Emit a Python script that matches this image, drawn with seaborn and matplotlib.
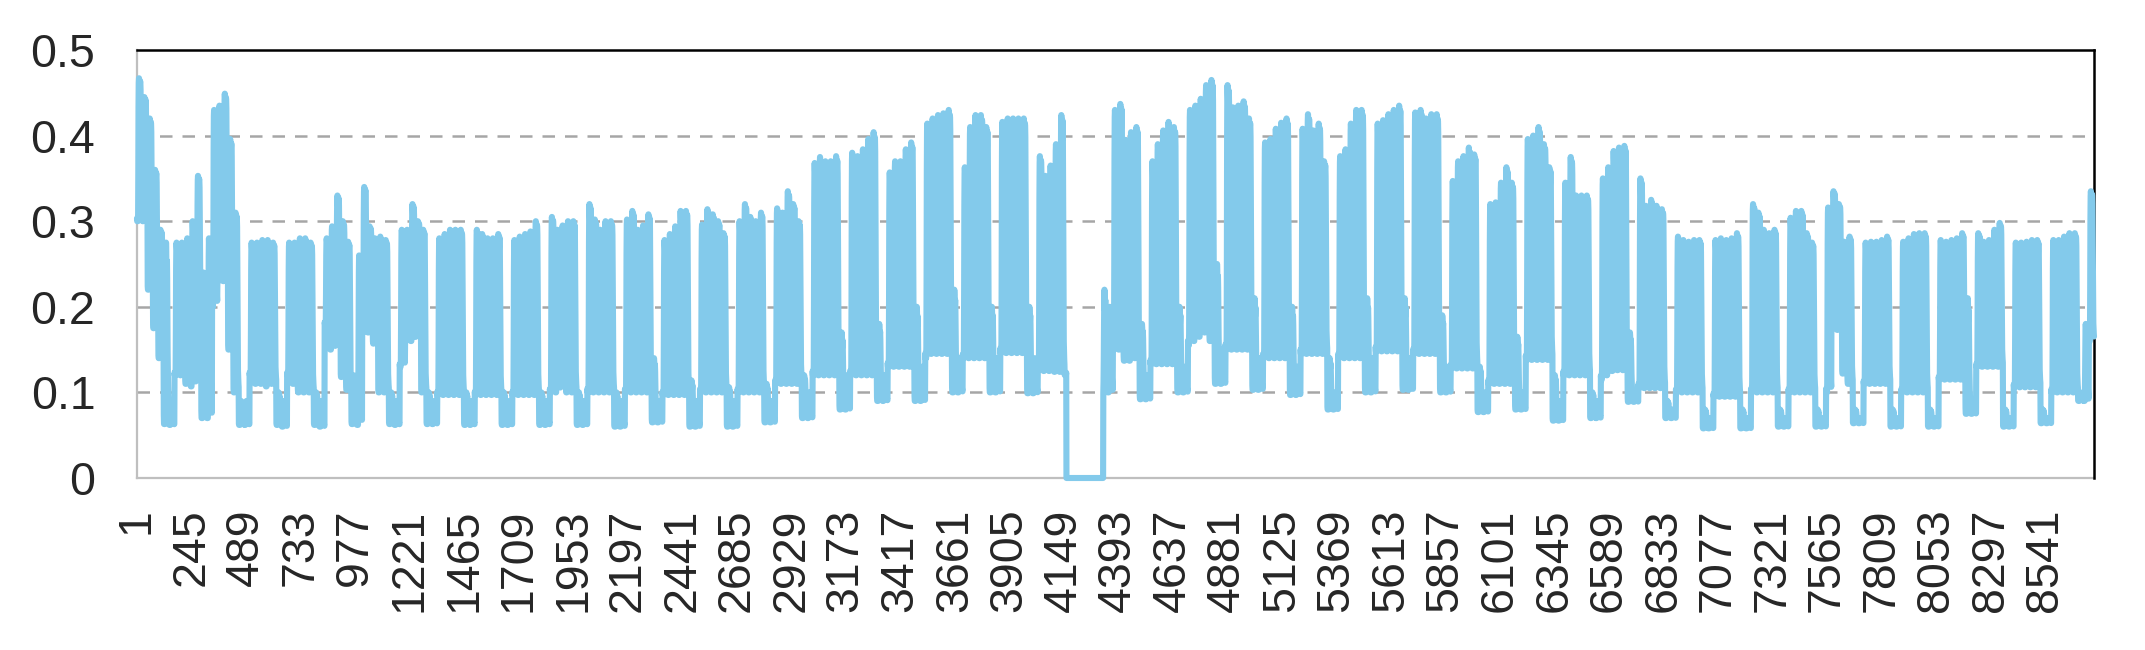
import numpy as np
import pandas as pd
import matplotlib
matplotlib.use("Agg")
import matplotlib.pyplot as plt
import seaborn as sns

# ---- data ---------------------------------------------------------------
# daily maximum per day, one row per week (Mon, Tue, Wed, Thu, Fri, Sat, Sun)
day_peak = [
    [0.467, 0.445, 0.420, 0.360, 0.290, 0.275, 0.090],
    [0.275, 0.275, 0.280, 0.300, 0.353, 0.240, 0.280],
    [0.430, 0.435, 0.449, 0.396, 0.310, 0.090, 0.090],
    [0.275, 0.275, 0.278, 0.278, 0.275, 0.100, 0.090],
    [0.275, 0.275, 0.280, 0.280, 0.275, 0.100, 0.090],
    [0.280, 0.294, 0.330, 0.300, 0.276, 0.120, 0.260],
    [0.340, 0.294, 0.280, 0.282, 0.278, 0.100, 0.090],
    [0.290, 0.290, 0.320, 0.300, 0.290, 0.100, 0.090],
    [0.280, 0.285, 0.290, 0.290, 0.290, 0.100, 0.090],
    [0.290, 0.285, 0.280, 0.280, 0.285, 0.100, 0.090],
    [0.278, 0.282, 0.285, 0.288, 0.300, 0.100, 0.090],
    [0.305, 0.290, 0.295, 0.300, 0.300, 0.100, 0.090],
    [0.320, 0.302, 0.290, 0.300, 0.300, 0.100, 0.090],
    [0.302, 0.312, 0.290, 0.295, 0.308, 0.140, 0.090],
    [0.278, 0.285, 0.294, 0.312, 0.312, 0.114, 0.090],
    [0.296, 0.314, 0.308, 0.300, 0.286, 0.106, 0.090],
    [0.300, 0.320, 0.305, 0.300, 0.310, 0.110, 0.090],
    [0.315, 0.310, 0.335, 0.320, 0.300, 0.120, 0.100],
    [0.368, 0.375, 0.370, 0.370, 0.376, 0.170, 0.120],
    [0.380, 0.376, 0.384, 0.396, 0.404, 0.180, 0.120],
    [0.357, 0.370, 0.370, 0.384, 0.392, 0.200, 0.130],
    [0.414, 0.420, 0.424, 0.426, 0.430, 0.220, 0.140],
    [0.363, 0.410, 0.424, 0.424, 0.410, 0.200, 0.140],
    [0.416, 0.420, 0.420, 0.420, 0.420, 0.200, 0.140],
    [0.376, 0.353, 0.365, 0.390, 0.424, 0.130, 0.000],
    [0.000, 0.000, 0.000, 0.000, 0.000, 0.220, 0.200],
    [0.430, 0.437, 0.395, 0.404, 0.410, 0.180, 0.120],
    [0.370, 0.390, 0.406, 0.416, 0.410, 0.200, 0.130],
    [0.430, 0.435, 0.443, 0.459, 0.465, 0.250, 0.150],
    [0.459, 0.433, 0.435, 0.440, 0.420, 0.210, 0.140],
    [0.392, 0.396, 0.408, 0.415, 0.420, 0.200, 0.130],
    [0.408, 0.425, 0.406, 0.414, 0.370, 0.140, 0.100],
    [0.376, 0.384, 0.414, 0.430, 0.430, 0.210, 0.140],
    [0.414, 0.418, 0.425, 0.430, 0.435, 0.210, 0.140],
    [0.427, 0.430, 0.420, 0.425, 0.425, 0.190, 0.130],
    [0.347, 0.370, 0.376, 0.386, 0.378, 0.130, 0.100],
    [0.320, 0.322, 0.345, 0.363, 0.345, 0.165, 0.100],
    [0.396, 0.400, 0.410, 0.390, 0.363, 0.120, 0.090],
    [0.345, 0.375, 0.330, 0.330, 0.330, 0.100, 0.090],
    [0.350, 0.363, 0.382, 0.386, 0.388, 0.170, 0.100],
    [0.350, 0.318, 0.325, 0.318, 0.314, 0.090, 0.080],
    [0.282, 0.278, 0.276, 0.278, 0.278, 0.080, 0.070],
    [0.278, 0.280, 0.278, 0.280, 0.286, 0.080, 0.070],
    [0.320, 0.310, 0.290, 0.286, 0.290, 0.080, 0.070],
    [0.304, 0.312, 0.312, 0.286, 0.275, 0.080, 0.070],
    [0.316, 0.335, 0.320, 0.276, 0.282, 0.080, 0.070],
    [0.275, 0.276, 0.276, 0.278, 0.282, 0.080, 0.070],
    [0.276, 0.280, 0.285, 0.286, 0.286, 0.080, 0.070],
    [0.278, 0.276, 0.278, 0.280, 0.286, 0.210, 0.090],
    [0.286, 0.276, 0.278, 0.290, 0.298, 0.080, 0.070],
    [0.275, 0.275, 0.276, 0.278, 0.278, 0.080, 0.070],
    [0.278, 0.278, 0.282, 0.286, 0.286, 0.100, 0.180],
    [0.335],
]

# daily minimum per day, same layout
day_low = [
    [0.300, 0.300, 0.220, 0.175, 0.140, 0.063, 0.062],
    [0.120, 0.120, 0.110, 0.107, 0.180, 0.070, 0.070],
    [0.200, 0.230, 0.230, 0.150, 0.100, 0.062, 0.062],
    [0.120, 0.110, 0.110, 0.107, 0.110, 0.062, 0.060],
    [0.120, 0.110, 0.100, 0.100, 0.100, 0.062, 0.060],
    [0.180, 0.150, 0.185, 0.118, 0.103, 0.063, 0.062],
    [0.170, 0.170, 0.157, 0.100, 0.100, 0.063, 0.062],
    [0.130, 0.160, 0.160, 0.170, 0.100, 0.063, 0.063],
    [0.097, 0.097, 0.097, 0.097, 0.097, 0.062, 0.062],
    [0.097, 0.097, 0.097, 0.097, 0.097, 0.062, 0.062],
    [0.097, 0.097, 0.097, 0.097, 0.097, 0.062, 0.062],
    [0.100, 0.100, 0.118, 0.100, 0.100, 0.062, 0.062],
    [0.100, 0.100, 0.100, 0.100, 0.100, 0.060, 0.060],
    [0.100, 0.100, 0.100, 0.100, 0.100, 0.065, 0.065],
    [0.097, 0.097, 0.097, 0.097, 0.097, 0.060, 0.060],
    [0.100, 0.100, 0.100, 0.100, 0.100, 0.060, 0.060],
    [0.100, 0.100, 0.100, 0.100, 0.100, 0.065, 0.065],
    [0.110, 0.110, 0.110, 0.110, 0.110, 0.070, 0.070],
    [0.120, 0.120, 0.120, 0.120, 0.120, 0.080, 0.080],
    [0.120, 0.120, 0.120, 0.120, 0.120, 0.090, 0.090],
    [0.130, 0.130, 0.130, 0.130, 0.130, 0.090, 0.090],
    [0.140, 0.145, 0.145, 0.145, 0.145, 0.100, 0.100],
    [0.140, 0.140, 0.140, 0.140, 0.140, 0.100, 0.100],
    [0.146, 0.146, 0.146, 0.146, 0.146, 0.099, 0.099],
    [0.130, 0.125, 0.125, 0.124, 0.124, 0.120, 0.000],
    [0.000, 0.000, 0.000, 0.000, 0.000, 0.100, 0.100],
    [0.150, 0.150, 0.137, 0.137, 0.140, 0.092, 0.092],
    [0.133, 0.133, 0.133, 0.133, 0.133, 0.100, 0.100],
    [0.155, 0.160, 0.165, 0.170, 0.160, 0.110, 0.110],
    [0.150, 0.150, 0.150, 0.150, 0.150, 0.103, 0.103],
    [0.140, 0.140, 0.140, 0.140, 0.140, 0.097, 0.097],
    [0.145, 0.145, 0.145, 0.145, 0.145, 0.080, 0.080],
    [0.140, 0.140, 0.140, 0.140, 0.140, 0.100, 0.100],
    [0.148, 0.148, 0.148, 0.148, 0.148, 0.103, 0.103],
    [0.145, 0.145, 0.145, 0.145, 0.145, 0.100, 0.100],
    [0.128, 0.128, 0.128, 0.128, 0.128, 0.077, 0.077],
    [0.110, 0.110, 0.110, 0.110, 0.110, 0.080, 0.080],
    [0.138, 0.138, 0.138, 0.138, 0.138, 0.067, 0.067],
    [0.120, 0.120, 0.120, 0.120, 0.120, 0.070, 0.070],
    [0.115, 0.120, 0.125, 0.126, 0.126, 0.089, 0.089],
    [0.105, 0.105, 0.105, 0.105, 0.105, 0.070, 0.070],
    [0.100, 0.100, 0.100, 0.100, 0.100, 0.058, 0.058],
    [0.095, 0.095, 0.095, 0.095, 0.095, 0.058, 0.058],
    [0.100, 0.100, 0.100, 0.100, 0.100, 0.060, 0.060],
    [0.100, 0.100, 0.100, 0.100, 0.100, 0.060, 0.060],
    [0.100, 0.200, 0.173, 0.122, 0.110, 0.064, 0.064],
    [0.110, 0.110, 0.110, 0.110, 0.110, 0.060, 0.060],
    [0.100, 0.100, 0.100, 0.100, 0.100, 0.060, 0.060],
    [0.115, 0.115, 0.115, 0.115, 0.115, 0.075, 0.075],
    [0.130, 0.130, 0.130, 0.130, 0.130, 0.060, 0.060],
    [0.106, 0.106, 0.106, 0.106, 0.106, 0.064, 0.064],
    [0.100, 0.100, 0.100, 0.100, 0.100, 0.090, 0.090],
    [0.160],
]

# typical hourly shape of a day (0 = daily minimum, 1 = daily maximum)
weekday_shape = [0.02, 0.0, 0.0, 0.0, 0.0, 0.05, 0.35, 0.80, 0.97, 1.0, 0.98, 0.95,
                 0.90, 0.96, 0.98, 0.97, 0.92, 0.70, 0.40, 0.20, 0.12, 0.08, 0.05, 0.03]
weekend_shape = [0.05, 0.0, 0.0, 0.0, 0.0, 0.0, 0.10, 0.30, 0.60, 0.90, 1.0, 0.95,
                 0.80, 0.85, 0.90, 0.80, 0.60, 0.40, 0.30, 0.20, 0.15, 0.10, 0.05, 0.03]

# hours with no reading (drawn at zero)
zero_hours = (4160, 4325)

n_hours = 8760
x_tick_step = 244
y_ticks = [0, 0.1, 0.2, 0.3, 0.4, 0.5]
y_tick_labels = ["0", "0.1", "0.2", "0.3", "0.4", "0.5"]

# ---- build the hourly table ---------------------------------------------
peaks = np.concatenate([np.asarray(w, float) for w in day_peak])
lows = np.concatenate([np.asarray(w, float) for w in day_low])
hours = np.arange(n_hours)
day = hours // 24
hod = hours % 24
weekend = (day % 7) >= 5
shape = np.where(weekend, np.asarray(weekend_shape)[hod], np.asarray(weekday_shape)[hod])
values = lows[day] + (peaks[day] - lows[day]) * shape
values[zero_hours[0]:zero_hours[1]] = 0.0
df = pd.DataFrame({"hour": hours + 1, "value": values})

# ---- plot ----------------------------------------------------------------
sns.set_style("white")
plt.rcParams["font.family"] = ["Liberation Sans", "DejaVu Sans"]

fig = plt.figure(figsize=(21.45, 6.5), dpi=100)
ax = fig.add_axes([137 / 2145, 1 - 478 / 650, (2094 - 137) / 2145, (478 - 50) / 650])

for yv in y_ticks[1:-1]:
    ax.axhline(yv, color="#A6A6A6", lw=1.8, ls=(0, (5, 4)), zorder=1)

sns.lineplot(data=df, x="hour", y="value", ax=ax, color="#83CAEB", lw=4.4,
             estimator=None, errorbar=None, zorder=3, clip_on=False)

ax.set_xlim(1, n_hours)
ax.set_ylim(0, 0.5)
ax.set_yticks(y_ticks)
ax.set_yticklabels(y_tick_labels, fontsize=33.5)
xt = np.arange(1, n_hours + 1, x_tick_step)
ax.set_xticks(xt)
ax.set_xticklabels([str(v) for v in xt], rotation=90, fontsize=33.5)
ax.tick_params(axis="y", length=0, pad=30)
ax.tick_params(axis="x", length=0, pad=22)
ax.set_xlabel("")
ax.set_ylabel("")

for s in ("left", "bottom"):
    ax.spines[s].set_color("#BFBFBF")
    ax.spines[s].set_linewidth(1.6)
    ax.spines[s].set_zorder(2)
for s in ("top", "right"):
    ax.spines[s].set_color("black")
    ax.spines[s].set_linewidth(1.8)

fig.savefig("out.png", dpi=100)
